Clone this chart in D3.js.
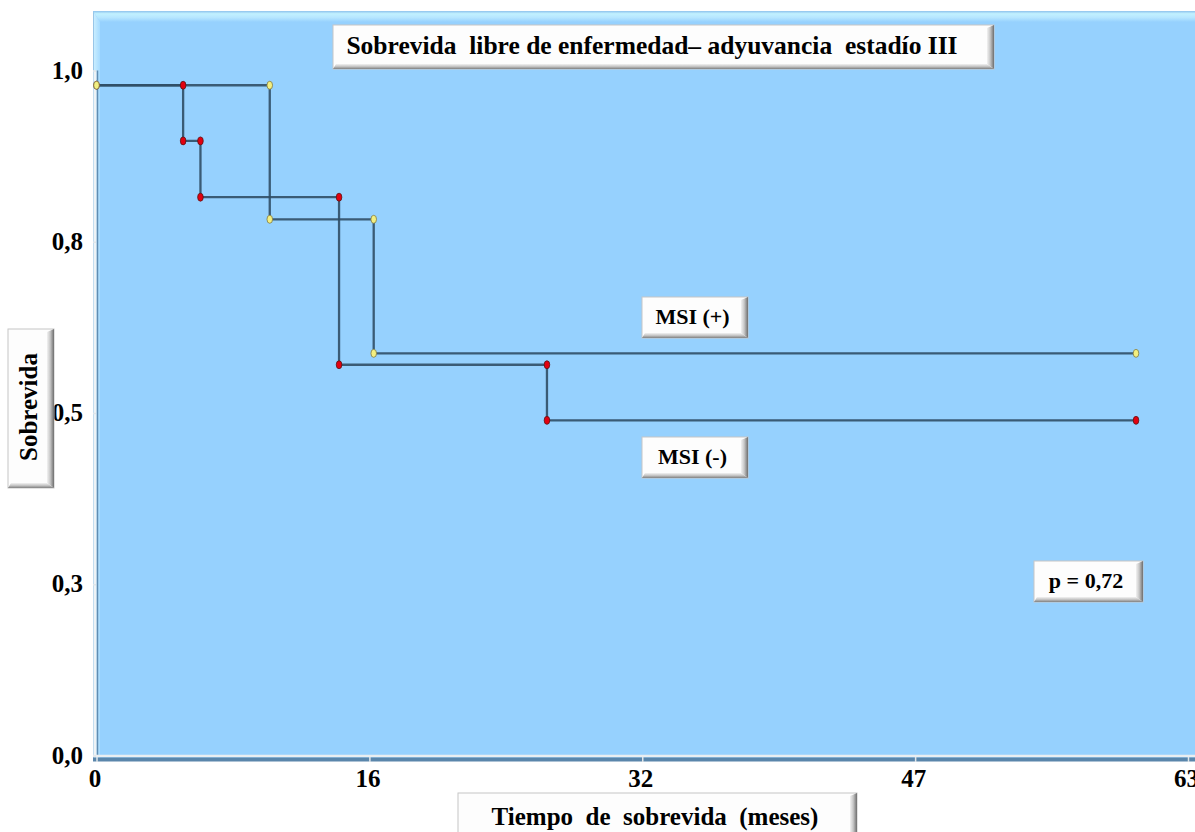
<!DOCTYPE html>
<html><head><meta charset="utf-8">
<script src="https://cdn.jsdelivr.net/npm/d3@7"></script>
<style>body{margin:0;background:#fff}svg{display:block}text{white-space:pre}</style>
</head><body>
<script>
// Kaplan–Meier steps: time (months) and survival fraction after each event
const msiPosTimes = [0, 10, 16, 60];
const msiPosSurv  = [1.0, 0.8, 0.6, 0.6];
const msiNegTimes = [0, 5, 6, 14, 26, 60];
const msiNegSurv  = [1.0, 0.917, 0.833, 0.583, 0.5, 0.5];
const xTickLabels = ["0", "16", "32", "47", "63"];
const yTickLabels = ["0,0", "0,3", "0,5", "0,8", "1,0"];
const xMax = 63, yMax = 1.022;

const W = 1195, H = 832;
const FONT = "'Liberation Serif','Times New Roman',serif";
const svg = d3.select("body").append("svg").attr("width", W).attr("height", H);
const defs = svg.append("defs");

function grad(id, x2, y2, stops) {
  const g = defs.append("linearGradient").attr("id", id)
    .attr("x1", 0).attr("y1", 0).attr("x2", x2).attr("y2", y2);
  stops.forEach(s => g.append("stop").attr("offset", s[0]).attr("stop-color", s[1]));
}
grad("btnR", 1, 0, [[0, "#f2f2f2"], [0.45, "#c8c8c8"], [1, "#6e6e6e"]]);
grad("btnB", 0, 1, [[0, "#f2f2f2"], [0.5, "#c4c4c4"], [1, "#808080"]]);
grad("panelTop", 0, 1, [[0, "#8fc2ec"], [0.25, "#c2f1ff"], [0.6, "#b6e6ff"], [1, "#96d1fe"]]);
grad("panelLeft", 1, 0, [[0, "#7fb1db"], [0.2, "#c6ecff"], [1, "#a6dbff"]]);

const x = d3.scaleLinear().domain([0, xMax]).range([96.5, 1188]);
const y = d3.scaleLinear().domain([0, yMax]).range([755.5, 70.5]);

// plotting panel with bevelled top/left edges
const P = {l: 93, t: 11, r: W, b: 761};
svg.append("rect").attr("x", P.l).attr("y", P.t).attr("width", P.r - P.l).attr("height", P.b - P.t)
  .attr("fill", "#96d1fe");
svg.append("polygon")
  .attr("points", `${P.l},${P.t} ${P.r},${P.t} ${P.r},${P.t + 11} ${P.l + 7},${P.t + 11}`)
  .attr("fill", "url(#panelTop)");
svg.append("polygon")
  .attr("points", `${P.l},${P.t} ${P.l + 7},${P.t + 11} ${P.l + 7},${P.b} ${P.l},${P.b}`)
  .attr("fill", "url(#panelLeft)");

// axes lines
svg.append("line").attr("x1", 95).attr("x2", 95).attr("y1", y(yMax)).attr("y2", 757)
  .attr("stroke", "#eef3f6").attr("stroke-width", 3);
svg.append("line").attr("x1", 97.5).attr("x2", 97.5).attr("y1", y(yMax)).attr("y2", 757)
  .attr("stroke", "#5f8db3").attr("stroke-width", 1.5);
svg.append("line").attr("x1", P.l).attr("x2", W).attr("y1", 756).attr("y2", 756)
  .attr("stroke", "#e9eef1").attr("stroke-width", 2.6);
svg.append("line").attr("x1", P.l).attr("x2", W).attr("y1", 759.5).attr("y2", 759.5)
  .attr("stroke", "#5a86ab").attr("stroke-width", 4);

const xTickVals = xTickLabels.map((_, i) => xMax * i / (xTickLabels.length - 1));
const yTickVals = yTickLabels.map((_, i) => yMax * i / (yTickLabels.length - 1));

// x axis ticks and labels
const xAxis = svg.append("g").attr("transform", "translate(0,757)")
  .call(d3.axisBottom(x).tickValues(xTickVals).tickFormat((d, i) => xTickLabels[i])
    .tickSize(5).tickPadding(14));
xAxis.select(".domain").remove();
xAxis.selectAll(".tick line").attr("stroke", "#e0e6ea").attr("stroke-width", 1.5);
xAxis.selectAll(".tick text").attr("font-family", FONT).attr("font-weight", "bold")
  .attr("font-size", 25).attr("fill", "#000").attr("dx", -2).attr("dy", "0.45em");

// y axis ticks and labels
const yAxis = svg.append("g").attr("transform", "translate(96,0)")
  .call(d3.axisLeft(y).tickValues(yTickVals).tickFormat((d, i) => yTickLabels[i])
    .tickSize(3).tickPadding(10));
yAxis.select(".domain").remove();
yAxis.selectAll(".tick line").attr("stroke", "#e0e6ea").attr("stroke-width", 1.5);
yAxis.selectAll(".tick text").attr("font-family", FONT).attr("font-weight", "bold")
  .attr("font-size", 25).attr("fill", "#000").attr("dy", "0.3em");

// survival step curves
const step = d3.line().x(d => x(d[0])).y(d => y(d[1])).curve(d3.curveStepAfter);
function series(times, surv) { return times.map((t, i) => [t, surv[i]]); }
function corners(times, surv) {
  const pts = [];
  times.forEach((t, i) => {
    if (i > 0 && surv[i] !== surv[i - 1]) pts.push([t, surv[i - 1]]);
    pts.push([t, surv[i]]);
  });
  return pts;
}
const groups = [
  {times: msiNegTimes, surv: msiNegSurv, fill: "#e3000f", stroke: "#5a1414"},
  {times: msiPosTimes, surv: msiPosSurv, fill: "#f3ef80", stroke: "#7f7a45"}
];
groups.forEach(g => {
  svg.append("path").attr("d", step(series(g.times, g.surv)))
    .attr("fill", "none").attr("stroke", "#304e66").attr("stroke-width", 2.3)
    .attr("stroke-opacity", 0.9);
});
groups.forEach(g => {
  svg.append("g").selectAll("ellipse").data(corners(g.times, g.surv)).join("ellipse")
    .attr("cx", d => x(d[0])).attr("cy", d => y(d[1])).attr("rx", 2.8).attr("ry", 4)
    .attr("fill", g.fill).attr("stroke", g.stroke).attr("stroke-width", 0.8);
});

// bevelled label buttons
function button(bx, by, bw, bh, text, size, opts = {}) {
  const g = svg.append("g");
  g.append("rect").attr("x", bx).attr("y", by).attr("width", bw).attr("height", bh)
    .attr("fill", "#fdfdfd").attr("stroke", "#c6c6c6").attr("stroke-width", 1);
  g.append("polygon")
    .attr("points", `${bx + bw - 7},${by + 3} ${bx + bw},${by} ${bx + bw},${by + bh} ${bx + bw - 7},${by + bh - 5}`)
    .attr("fill", "url(#btnR)");
  g.append("polygon")
    .attr("points", `${bx},${by + bh} ${bx + 3},${by + bh - 5} ${bx + bw - 7},${by + bh - 5} ${bx + bw},${by + bh}`)
    .attr("fill", "url(#btnB)");
  const cx = bx + (bw - 7) / 2 + 1 + (opts.dx || 0), cy = by + (bh - 5) / 2 + 1;
  const t = g.append("text").attr("font-family", FONT).attr("font-weight", "bold")
    .attr("font-size", size).attr("fill", "#000").attr("text-anchor", "middle")
    .attr("dominant-baseline", "central").text(text);
  if (opts.rotate) t.attr("transform", `translate(${cx},${cy}) rotate(-90)`);
  else t.attr("x", cx).attr("y", cy);
  return g;
}
button(333, 25, 661, 44, "Sobrevida  libre de enfermedad– adyuvancia  estadío III", 25.5, {dx: -9});
button(642, 297, 106, 41, "MSI (+)", 22);
button(642, 437, 106, 41, "MSI (-)", 22);
button(1034, 561, 109, 41, "p = 0,72", 22);
button(8, 329, 46, 159, "Sobrevida", 25, {rotate: true});
button(458, 793, 399, 50, "Tiempo  de  sobrevida  (meses)", 25);
</script>
</body></html>
